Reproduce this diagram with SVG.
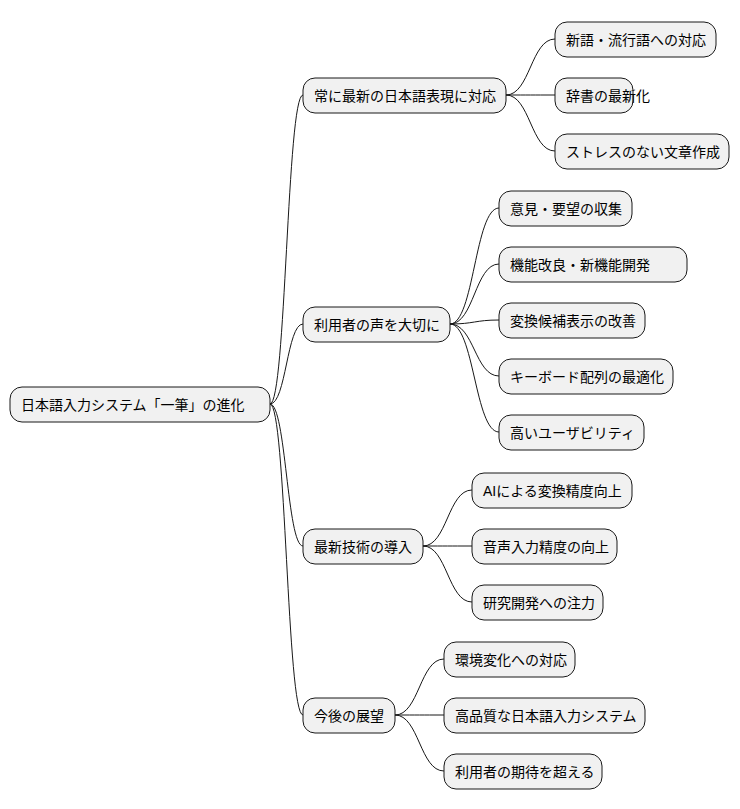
<svg xmlns="http://www.w3.org/2000/svg" width="740" height="809" viewBox="0 0 740 809">
<style>
.n rect{fill:#F1F1F1;stroke:#181818;stroke-width:1}
.n text{font-family:"Liberation Sans","Noto Sans CJK JP",sans-serif;font-size:14px;fill:#000;dominant-baseline:central}
.c path{fill:none;stroke:#181818;stroke-width:1}
</style>
<rect width="740" height="809" fill="#fff"/>
<g class="c">
<path d="M270 404 C286 404 287 95 303 95"/>
<path d="M270 404 C286 404 287 324 303 324"/>
<path d="M270 404 C286 404 287 546 303 546"/>
<path d="M270 404 C286 404 287 715 303 715"/>
<path d="M506 95 C530 95 531 39 555 39"/>
<path d="M506 95 C530 95 531 95 555 95"/>
<path d="M506 95 C530 95 531 151 555 151"/>
<path d="M450 324 C474 324 475 208 499 208"/>
<path d="M450 324 C474 324 475 264 499 264"/>
<path d="M450 324 C474 324 475 320 499 320"/>
<path d="M450 324 C474 324 475 376 499 376"/>
<path d="M450 324 C474 324 475 432 499 432"/>
<path d="M423 546 C447 546 448 490 472 490"/>
<path d="M423 546 C447 546 448 546 472 546"/>
<path d="M423 546 C447 546 448 602 472 602"/>
<path d="M395 715 C419 715 420 659 444 659"/>
<path d="M395 715 C419 715 420 715 444 715"/>
<path d="M395 715 C419 715 420 771 444 771"/>
</g>
<g id="root" class="n"><rect x="10" y="387" width="260" height="35" rx="12"/><text x="21" y="404.5">日本語入力システム「一筆」の進化</text></g>
<g id="a" class="n"><rect x="303" y="78" width="203" height="35" rx="12"/><text x="314" y="95.5">常に最新の日本語表現に対応</text></g>
<g id="b" class="n"><rect x="303" y="307" width="147" height="35" rx="12"/><text x="314" y="324.5">利用者の声を大切に</text></g>
<g id="c" class="n"><rect x="303" y="529" width="120" height="35" rx="12"/><text x="314" y="546.5">最新技術の導入</text></g>
<g id="d" class="n"><rect x="303" y="698" width="92" height="35" rx="12"/><text x="314" y="715.5">今後の展望</text></g>
<g id="a1" class="n"><rect x="555" y="22" width="161" height="35" rx="12"/><text x="566" y="39.5">新語・流行語への対応</text></g>
<g id="a2" class="n"><rect x="555" y="78" width="78" height="35" rx="12"/><text x="566" y="95.5">辞書の最新化</text></g>
<g id="a3" class="n"><rect x="555" y="134" width="174" height="35" rx="12"/><text x="566" y="151.5">ストレスのない文章作成</text></g>
<g id="b1" class="n"><rect x="499" y="191" width="133" height="35" rx="12"/><text x="510" y="208.5">意見・要望の収集</text></g>
<g id="b2" class="n"><rect x="499" y="247" width="188" height="35" rx="12"/><text x="510" y="264.5">機能改良・新機能開発</text></g>
<g id="b3" class="n"><rect x="499" y="303" width="146" height="35" rx="12"/><text x="510" y="320.5">変換候補表示の改善</text></g>
<g id="b4" class="n"><rect x="499" y="359" width="174" height="35" rx="12"/><text x="510" y="376.5">キーボード配列の最適化</text></g>
<g id="b5" class="n"><rect x="499" y="415" width="145" height="35" rx="12"/><text x="510" y="432.5">高いユーザビリティ</text></g>
<g id="c1" class="n"><rect x="472" y="473" width="160" height="35" rx="12"/><text x="483" y="490.5">AIによる変換精度向上</text></g>
<g id="c2" class="n"><rect x="472" y="529" width="145" height="35" rx="12"/><text x="483" y="546.5">音声入力精度の向上</text></g>
<g id="c3" class="n"><rect x="472" y="585" width="131" height="35" rx="12"/><text x="483" y="602.5">研究開発への注力</text></g>
<g id="d1" class="n"><rect x="444" y="642" width="131" height="35" rx="12"/><text x="455" y="659.5">環境変化への対応</text></g>
<g id="d2" class="n"><rect x="444" y="698" width="201" height="35" rx="12"/><text x="455" y="715.5">高品質な日本語入力システム</text></g>
<g id="d3" class="n"><rect x="444" y="754" width="158" height="35" rx="12"/><text x="455" y="771.5">利用者の期待を超える</text></g>
</svg>
